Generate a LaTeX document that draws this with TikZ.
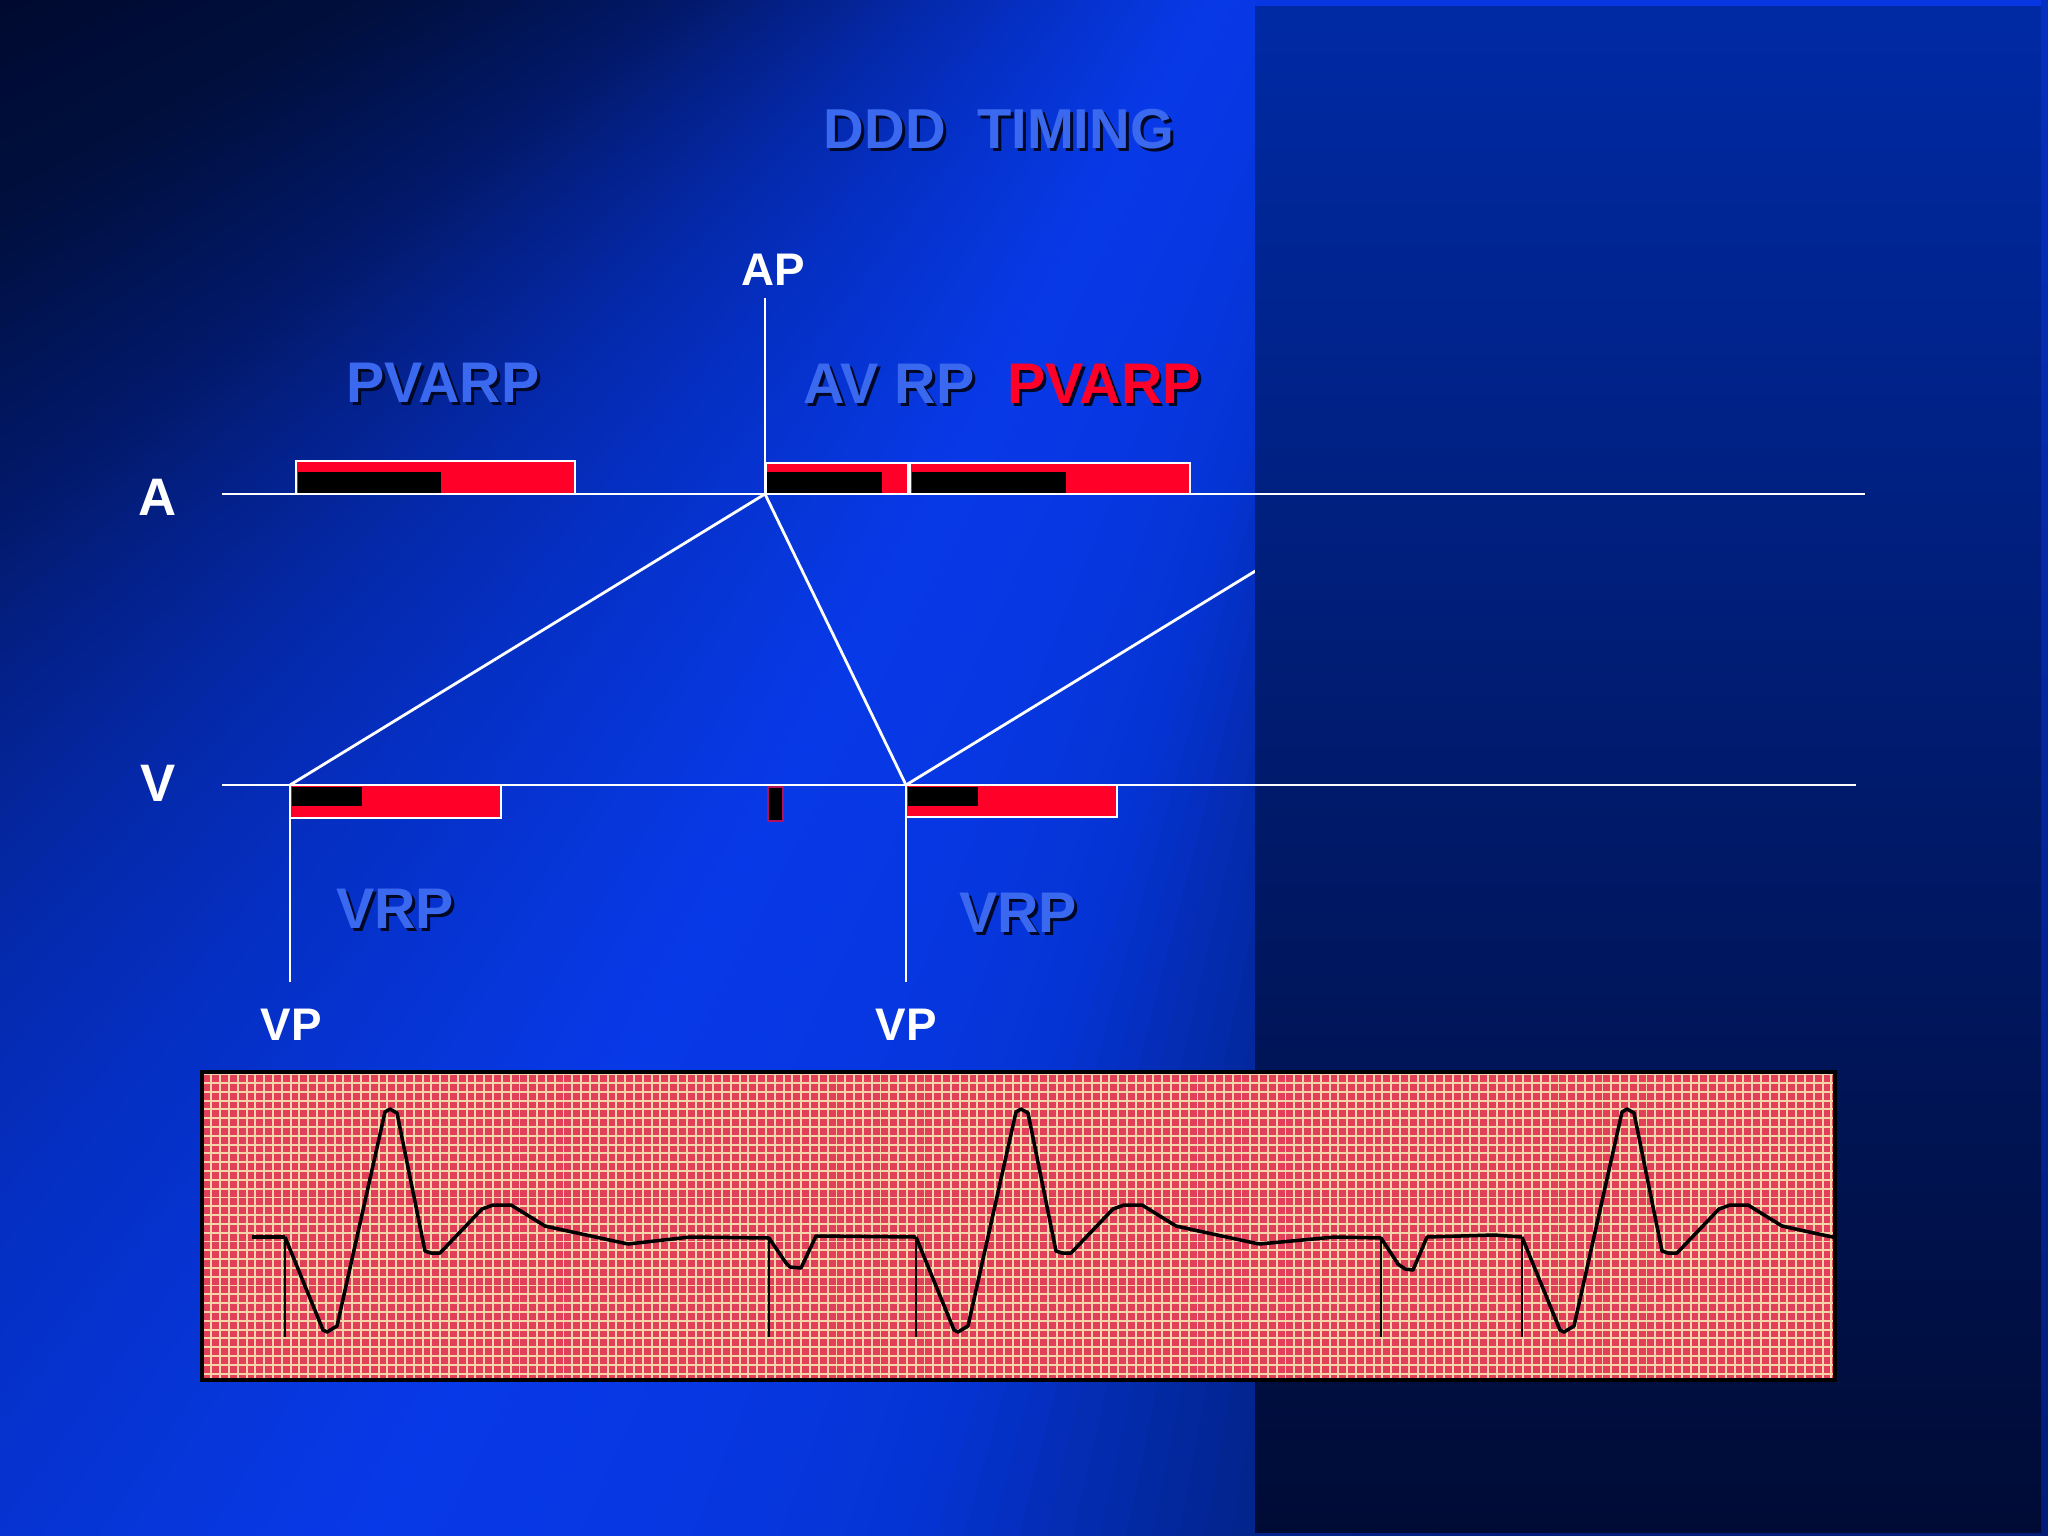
\documentclass[tikz,border=0pt]{standalone}
\usepackage{fontspec}
\setmainfont{Liberation Sans}
\usetikzlibrary{positioning}

\definecolor{fan90}{HTML}{021C78}
\definecolor{fan99}{HTML}{02248E}
\definecolor{fan107}{HTML}{0534D4}
\definecolor{fan113}{HTML}{0737E2}
\definecolor{fan119}{HTML}{0839E8}
\definecolor{fan125}{HTML}{0634D4}
\definecolor{fan130}{HTML}{052FC2}
\definecolor{fan135}{HTML}{0428A8}
\definecolor{fan139}{HTML}{04218A}
\definecolor{fan143}{HTML}{02196A}
\definecolor{fan146}{HTML}{01155A}
\definecolor{fan151}{HTML}{000F3E}
\definecolor{fan160}{HTML}{000A30}
\definecolor{panelTop}{HTML}{002AA5}
\definecolor{panelMid}{HTML}{001A78}
\definecolor{panelBot}{HTML}{000B35}
\definecolor{lblblue}{HTML}{3A68EE}
\definecolor{pacered}{HTML}{FF0028}
\definecolor{dropshadow}{HTML}{000825}
\definecolor{paperred}{HTML}{E2405A}
\definecolor{papercream}{HTML}{F6D4AA}
\definecolor{tickrim}{HTML}{B01060}

\tikzset{
  wire/.style={white, line width=0.8pt},
  rpbox/.style={draw=white, fill=pacered, line width=0.75pt},
  blank/.style={fill=black},
  tickbox/.style={draw=tickrim, fill=black, line width=0.6pt},
  lbl/.style={font=\bfseries\fontsize{16.3}{18}\selectfont, inner sep=0pt},
  wlbl/.style={font=\bfseries\fontsize{13}{15}\selectfont, inner sep=0pt, text=white},
  albl/.style={font=\bfseries\fontsize{15}{17}\selectfont, inner sep=0pt, text=white},
  paper/.style={fill=paperred},
  papergrid/.style={draw=papercream, line width=0.55pt},
  trace/.style={black, line width=1pt, line join=round},
  spike/.style={black, line width=0.8pt}
}

\newcommand{\dropped}[2]{\makebox[0pt][l]{\hspace{0.85pt}\raisebox{-0.85pt}{\textcolor{dropshadow}{#2}}}\textcolor{#1}{#2}}

\begin{document}
\begin{tikzpicture}[x=0.01cm, y=-0.01cm]
  \useasboundingbox (0,0) rectangle (2048,1536);
  % background fan
  \begin{scope}
    \clip (0,0) rectangle (2048,1536);
    \begin{scope}[shift={(1580,-662)}]
      \fill[fan90] (0,0) -- (30:4000) -- (90.2:4000) -- cycle;
      \fill[fan160] (0,0) -- (157:4000) -- (178:4000) -- cycle;
      \foreach \aa/\ab/\ca/\cb in {90/99/fan90/fan99, 99/107/fan99/fan107, 107/113/fan107/fan113,
          113/119/fan113/fan119, 119/125/fan119/fan125, 125/130/fan125/fan130, 130/135/fan130/fan135,
          135/139.5/fan135/fan139, 139.5/143.5/fan139/fan143, 143.5/146.3/fan143/fan146,
          146.3/151/fan146/fan151, 151/157.3/fan151/fan160} {
        \foreach \k in {0,...,11} {
          \pgfmathsetmacro\wa{\aa+(\ab-\aa)*\k/12}
          \pgfmathsetmacro\wb{\aa+(\ab-\aa)*(\k+1)/12+0.15}
          \pgfmathtruncatemacro\pct{round(100*(\k+0.5)/12)}
          \colorlet{wedgecol}{\cb!\pct!\ca}
          \fill[wedgecol] (0,0) -- (\wa:4000) -- (\wb:4000) -- cycle;
        }
      }
    \end{scope}
  \end{scope}
  \fill[fan113] (1255,0) rectangle (2048,6);
  \shade[top color=fan130, bottom color=fan90] (2041,0) rectangle (2048,1536);

  \coordinate (awest) at (222,494);
  \coordinate (aeast) at (1865,494);
  \coordinate (vwest) at (222,785);
  \coordinate (veast) at (1856,785);
  \coordinate (ap) at (765,494);
  \coordinate (aptop) at (765,298);
  \coordinate (vp1) at (290,785);
  \coordinate (vp1end) at (290,982);
  \coordinate (vp2) at (906,785);
  \coordinate (vp2end) at (906,982);
  \coordinate (ap2) at (1381,494);

  \draw[wire] (vp2) -- (ap2);
  \shade[top color=panelTop, middle color=panelMid, bottom color=panelBot] (1255,6) rectangle (2041,1532);

  % refractory periods
  \draw[rpbox] (296,461) rectangle (575,494);
  \fill[blank] (298,472) rectangle (441,493);
  \draw[rpbox] (766,463) rectangle (908,494);
  \fill[blank] (767,472) rectangle (882,493);
  \draw[rpbox] (910,463) rectangle (1190,494);
  \fill[blank] (912,472) rectangle (1066,493);
  \draw[rpbox] (290,785) rectangle (501,818);
  \fill[blank] (292,787) rectangle (362,806);
  \draw[rpbox] (906,785) rectangle (1117,817);
  \fill[blank] (908,787) rectangle (978,806);
  \draw[tickbox] (768,787) rectangle (783,821);

  \draw[wire] (awest) -- (aeast);
  \draw[wire] (vwest) -- (veast);
  \draw[wire] (ap) -- (aptop);
  \draw[wire] (vp1) -- (vp1end);
  \draw[wire] (vp2) -- (vp2end);
  \draw[wire] (vp1) -- (ap);
  \draw[wire] (ap) -- (vp2);

  \node[lbl, font=\bfseries\fontsize{16}{18}\selectfont] (title) at (999,131) {\dropped{lblblue}{DDD~~TIMING}};
  \node[lbl] (pvarp1) at (443,384) {\dropped{lblblue}{PVARP}};
  \node[lbl] (avrp) at (889,385) {\dropped{lblblue}{AV RP}};
  \node[lbl] (pvarp2) at (1104,385) {\dropped{pacered}{PVARP}};
  \node[lbl] (vrp1) at (395,910) {\dropped{lblblue}{VRP}};
  \node[lbl] (vrp2) at (1018,914) {\dropped{lblblue}{VRP}};

  \node[wlbl] (aplbl) at (773,270) {AP};
  \node[wlbl] (vp1lbl) at (291,1025) {VP};
  \node[wlbl] (vp2lbl) at (906,1025) {VP};
  \node[albl] (alabel) at (158,497) {A};
  \node[albl] (vlabel) at (158,783) {V};

  % ecg strip
  \fill[paper] (202,1072) rectangle (1835,1380);
  \begin{scope}
    \clip (202,1072) rectangle (1835,1380);
    \draw[papergrid, step=0.088cm] (202,1380) grid (1835,1072);
    \foreach \v in {285,916,1522}
      \draw[trace] (\v,1237) -- (\v+38,1330) -- (\v+42,1332) -- (\v+52,1326) -- (\v+100,1112) -- (\v+105,1109)
        -- (\v+112,1113) -- (\v+140,1251) -- (\v+146,1253) -- (\v+155,1253) -- (\v+197,1209) -- (\v+208,1205)
        -- (\v+226,1205) -- (\v+260,1226) -- (\v+278,1230) -- (\v+343,1244);
  \end{scope}
  \draw[trace] (252,1237) -- (285,1237);
  \draw[trace] (628,1244) -- (690,1237) -- (769,1238) -- (786,1263) -- (790,1267) -- (801,1268) -- (816,1236) -- (916,1237);
  \draw[trace] (1259,1244) -- (1335,1237) -- (1381,1238) -- (1398,1264) -- (1405,1269) -- (1413,1270) -- (1427,1237) -- (1494,1235) -- (1522,1237);
  \foreach \s in {285,769,916,1381,1522}
    \draw[spike] (\s,1237) -- (\s,1337);
  \draw[black, line width=1pt] (202,1072) rectangle (1835,1380);
\end{tikzpicture}
\end{document}
